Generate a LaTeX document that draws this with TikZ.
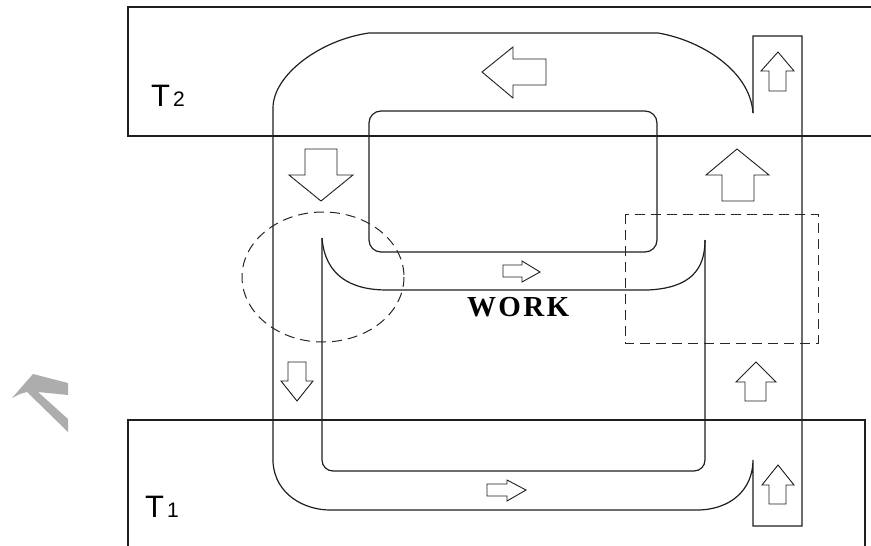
\documentclass[tikz,border=0pt]{standalone}
\usepackage{fontspec}
\setmainfont{Liberation Sans}
\newfontfamily\workfont{Liberation Serif}[LetterSpace=8]
\tikzset{
  wall/.style={draw=black!88, line width=1.2pt},
  blockarrow/.style={draw=black!88, line width=0.9pt, line join=miter, fill=white},
  dashbox/.style={draw=black!85, line width=1pt, dash pattern=on 10pt off 6pt},
  label/.style={inner sep=0pt, text=black},
}
\begin{document}
\begin{tikzpicture}[x=1pt,y=-1pt]
\useasboundingbox (0,0) rectangle (871,546);
% reservoirs
\draw[wall] (871,7) -- (128,7) -- (128,136) -- (871,136);
\draw[wall] (128,546) -- (128,420) -- (865,420) -- (865,546);
% outer loop
\draw[wall] (273,108) .. controls (273,75) and (320,40) .. (369,33) -- (658,33)
  .. controls (700,40) and (750,70) .. (753,113);
\draw[wall] (273,108) -- (273,462) .. controls (275,495) and (305,510) .. (330,510)
  -- (697,510) .. controls (730,510) and (753,490) .. (753,460)
  -- (753,526) -- (802,526) -- (802,36) -- (753,36) -- (753,113);
% inner rounded rectangle
\draw[wall, rounded corners=12pt] (369,111) rectangle (657,252);
% lower inner loop
\draw[wall, rounded corners=11pt] (322,238) -- (322,471) -- (705,471) -- (705,240);
% work channel lower boundary
\draw[wall] (322,238) .. controls (325,275) and (350,290) .. (387,290) -- (648,290)
  .. controls (690,288) and (705,270) .. (705,240);
% dashed markers
\draw[dashbox] (323,277) ellipse [x radius=81, y radius=65];
\draw[dashbox] (625,214) rectangle (818,343);
% block arrows
\draw[blockarrow] (482,72) -- (513,47) -- (513,59) -- (546,59) -- (546,85) -- (513,85) -- (513,98) -- cycle;
\draw[blockarrow] (305,149) -- (337,149) -- (337,175) -- (353,175) -- (321,201) -- (289,175) -- (305,175) -- cycle;
\draw[blockarrow] (778,52) -- (794,71) -- (786,71) -- (786,91) -- (769,91) -- (769,71) -- (761,71) -- cycle;
\draw[blockarrow] (737,149) -- (769,175) -- (754,175) -- (754,201) -- (722,201) -- (722,175) -- (706,175) -- cycle;
\draw[blockarrow] (540,272) -- (522,282) -- (522,277) -- (503,277) -- (503,265) -- (522,265) -- (522,261) -- cycle;
\draw[blockarrow] (297,401) -- (313,381) -- (306,381) -- (306,362) -- (288,362) -- (288,381) -- (281,381) -- cycle;
\draw[blockarrow] (756,362) -- (776,382) -- (766,382) -- (766,401) -- (745,401) -- (745,382) -- (736,382) -- cycle;
\draw[blockarrow] (778,465) -- (794,485) -- (786,485) -- (786,504) -- (769,504) -- (769,485) -- (762,485) -- cycle;
\draw[blockarrow] (526,490) -- (507,501) -- (507,496) -- (487,496) -- (487,484) -- (507,484) -- (507,480) -- cycle;
% gray chevron
\fill[black!32] (12,398) -- (33,374) -- (68,383) -- (68,395) -- (38,392) -- (68,419) -- (68,432) -- (27,392) -- (20,394) -- cycle;
% labels
\node[label, anchor=base west] (t2) at (151,106) {{\fontsize{31}{31}\selectfont T}\kern3pt{\fontsize{21}{21}\selectfont 2}};
\node[label, anchor=base west] (t1) at (145,517) {{\fontsize{31}{31}\selectfont T}\kern3pt{\fontsize{21}{21}\selectfont 1}};
\node[label, anchor=base west] (work) at (467,316) {\workfont\bfseries\fontsize{29}{29}\selectfont WORK};
\end{tikzpicture}
\end{document}
